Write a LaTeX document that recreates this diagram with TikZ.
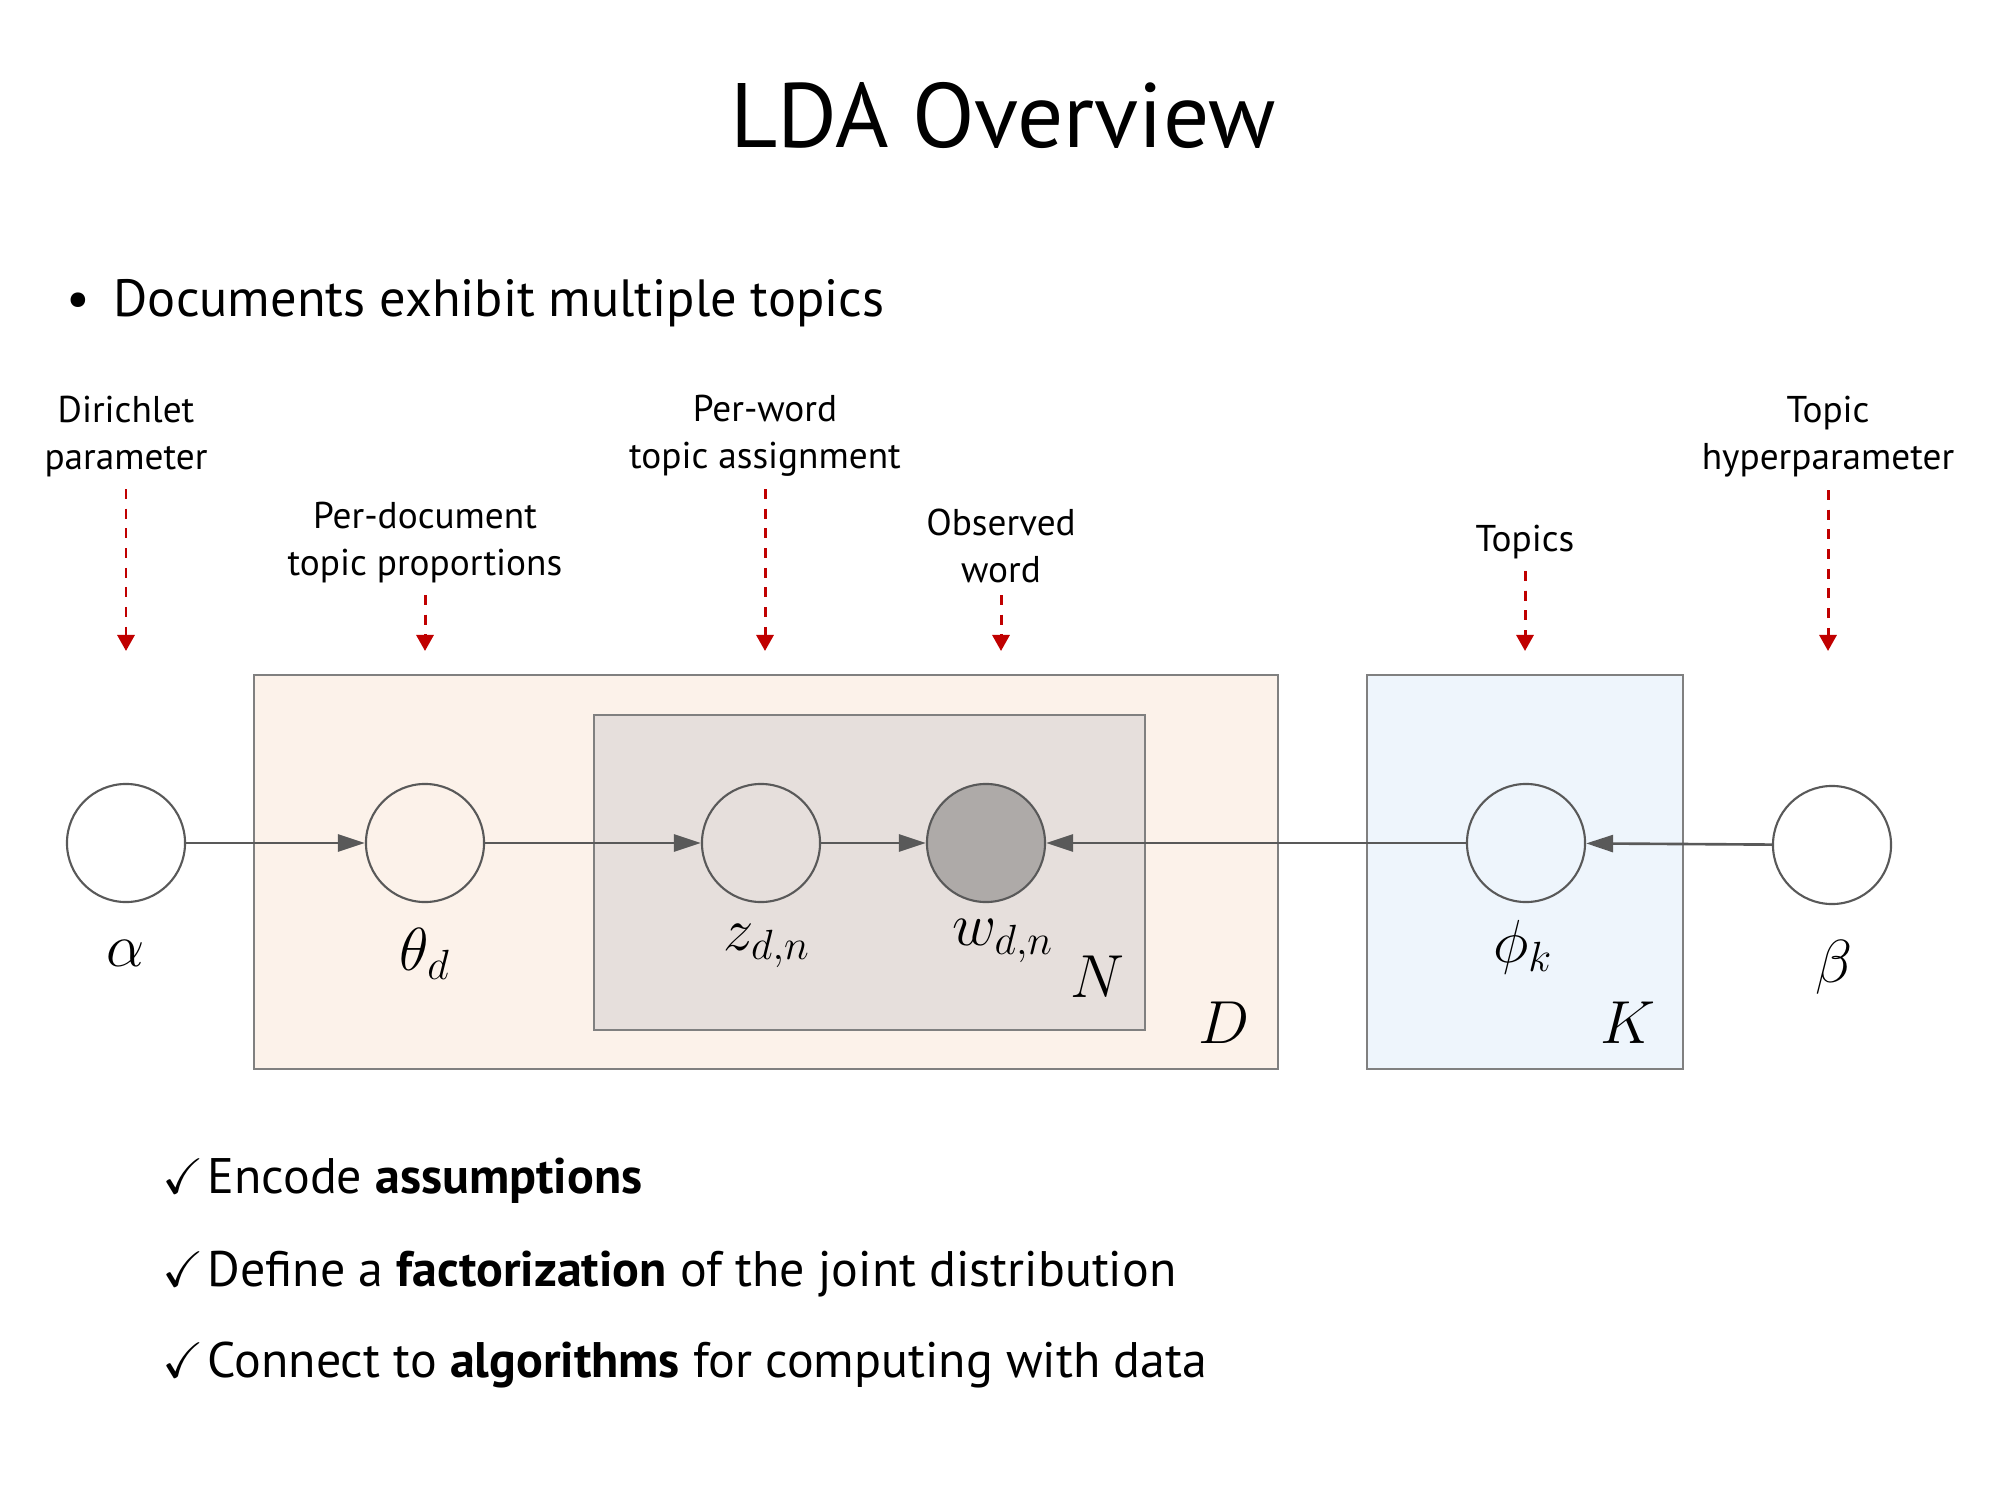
\documentclass[tikz,border=0pt]{standalone}
\usepackage{fontspec}
\usepackage{amssymb}
\setmainfont{PT Sans}
\usetikzlibrary{arrows.meta}
\definecolor{docfill}{HTML}{FCF2EA}
\definecolor{wordfill}{HTML}{E6DFDC}
\definecolor{topicfill}{HTML}{EEF5FC}
\definecolor{obsgray}{HTML}{AEAAA8}
\definecolor{linegray}{HTML}{595959}
\definecolor{plategray}{HTML}{808080}
\definecolor{hintred}{HTML}{C00000}

\begin{document}
\begin{tikzpicture}[x=0.01cm,y=-0.01cm,
  var/.style={circle,draw=linegray,line width=0.6pt,minimum size=1.18cm,inner sep=0pt},
  obs/.style={var,fill=obsgray},
  edge/.style={draw=linegray,line width=0.75pt,-{Triangle[length=0.27cm,width=0.17cm]}},
  hint/.style={draw=hintred,line width=0.85pt,dash pattern=on 2.8pt off 2.8pt,-{Triangle[length=0.16cm,width=0.17cm]}},
  lbl/.style={align=center,anchor=south,font=\fontsize{10.6}{13.4}\selectfont},
  mlbl/.style={anchor=base,inner sep=0pt,font=\fontsize{18.5}{22}\selectfont},
  chk/.style={anchor=base west,inner sep=0pt,font=\fontsize{14.2}{17}\selectfont},
  plate/.style={draw=plategray,line width=0.6pt}]
\useasboundingbox[fill=white](0,0) rectangle (2000,1500);

% title and bullet
\node[anchor=base,font=\fontsize{26}{30}\selectfont] (title) at (1003,148) {LDA Overview};
\node[anchor=base,inner sep=0pt,font=\fontsize{14.9}{18}\selectfont] (dot) at (78,317) {\textbullet};
\node[anchor=base west,inner sep=0pt,font=\fontsize{14.9}{18}\selectfont] (bullet) at (113,317) {Documents exhibit multiple topics};

% plates
\filldraw[plate,fill=docfill](254,675) rectangle (1278,1069);
\filldraw[plate,fill=wordfill](594,715) rectangle (1145,1030);
\filldraw[plate,fill=topicfill](1367,675) rectangle (1683,1069);

% variables
\node[var] (alpha) at (126,843) {};
\node[var] (theta) at (425,843) {};
\node[var] (z) at (761,843) {};
\node[obs] (w) at (986,843) {};
\node[var] (phi) at (1526,843) {};
\node[var] (beta) at (1832,845) {};

\draw[edge](alpha)--(theta);
\draw[edge](theta)--(z);
\draw[edge](z)--(w);
\draw[edge](phi)--(w);
\draw[edge](beta)--(phi);

\node[mlbl] (alphalbl) at (126,966) {$\alpha$};
\node[mlbl] (thetalbl) at (425,970) {$\theta_d$};
\node[mlbl] (zlbl) at (767,950) {$z_{d,n}$};
\node[mlbl] (wlbl) at (1003,945) {$w_{d,n}$};
\node[mlbl] (philbl) at (1523,962) {$\phi_k$};
\node[mlbl] (betalbl) at (1834,982) {$\beta$};
\node[mlbl] (Nlbl) at (1097,997) {$N$};
\node[mlbl] (Dlbl) at (1224,1043) {$D$};
\node[mlbl] (Klbl) at (1628,1043) {$K$};

% annotations
\node[lbl] (lblalpha) at (126,489) {Dirichlet\\parameter};
\node[lbl] (lbltheta) at (425,595) {Per-document\\topic proportions};
\node[lbl] (lblz) at (765,489) {Per-word\\topic assignment};
\node[lbl] (lblw) at (1001,595) {Observed\\word};
\node[lbl] (lblphi) at (1525,571) {Topics};
\node[lbl] (lblbeta) at (1828,490) {Topic\\hyperparameter};
\coordinate (talpha) at (126,651);
\coordinate (ttheta) at (425,651);
\coordinate (tz) at (765,651);
\coordinate (tw) at (1001,651);
\coordinate (tphi) at (1525,651);
\coordinate (tbeta) at (1828,651);
\draw[hint](lblalpha)--(talpha);
\draw[hint](lbltheta)--(ttheta);
\draw[hint](lblz)--(tz);
\draw[hint](lblw)--(tw);
\draw[hint](lblphi)--(tphi);
\draw[hint](lblbeta)--(tbeta);

% checklist
\node[chk] (chk1) at (162,1193) {$\checkmark$\kern1pt Encode \textbf{assumptions}};
\node[chk] (chk2) at (162,1286) {$\checkmark$\kern1pt Define a \textbf{factorization} of the joint distribution};
\node[chk] (chk3) at (162,1377) {$\checkmark$\kern1pt Connect to \textbf{algorithms} for computing with data};
\end{tikzpicture}
\end{document}
